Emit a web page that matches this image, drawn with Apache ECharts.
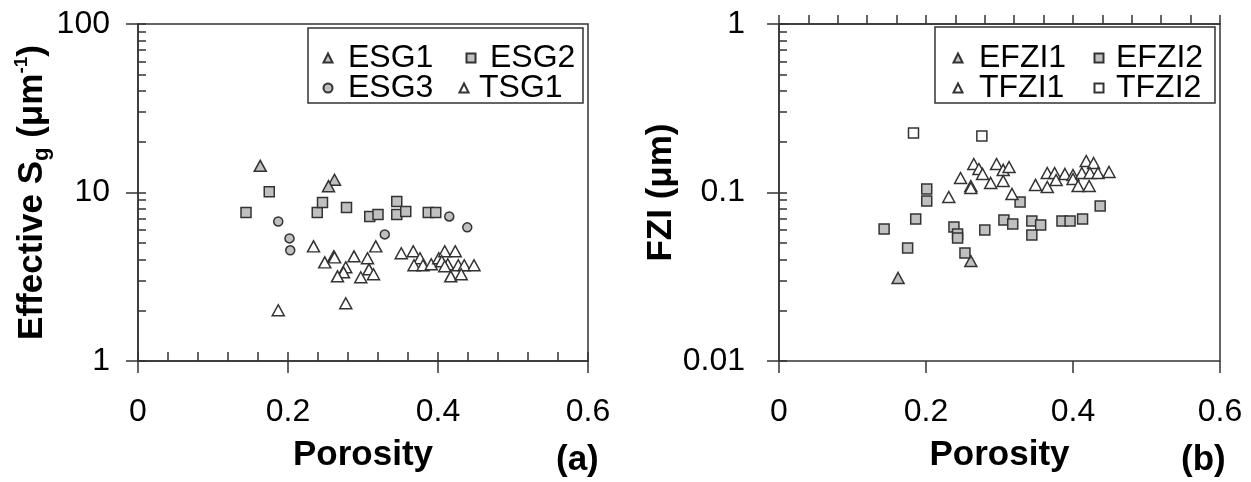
<!DOCTYPE html>
<html>
<head>
<meta charset="utf-8">
<script src="https://cdn.jsdelivr.net/npm/echarts@6/dist/echarts.min.js"></script>
<style>
  html, body { margin: 0; padding: 0; background: #fff; }
  #chart { width: 1251px; height: 482px; }
</style>
</head>
<body>
<div id="chart"></div>
<script>
// ---- (a) effective specific surface vs porosity: [porosity, Sg (1/um)] ----
const esg1 = [[0.163, 14.4], [0.262, 11.9], [0.254, 10.9]];
const esg2 = [[0.144, 7.62], [0.175, 10.1], [0.239, 7.62], [0.246, 8.73], [0.278, 8.15],
              [0.309, 7.21], [0.320, 7.41], [0.345, 8.85], [0.345, 7.41], [0.357, 7.72],
              [0.387, 7.62], [0.397, 7.62]];
const esg3 = [[0.187, 6.73], [0.202, 5.34], [0.203, 4.54], [0.329, 5.64], [0.415, 7.21], [0.439, 6.21]];
const tsg1 = [[0.234, 4.79], [0.187, 2.00], [0.249, 3.85], [0.261, 4.18], [0.262, 4.12],
              [0.288, 4.18], [0.306, 4.07], [0.317, 4.79], [0.277, 3.60], [0.274, 3.36],
              [0.266, 3.18], [0.308, 3.50], [0.297, 3.14], [0.314, 3.27], [0.277, 2.20],
              [0.351, 4.36], [0.367, 4.48], [0.376, 4.07], [0.368, 3.70], [0.380, 3.70],
              [0.391, 3.75], [0.401, 4.07], [0.409, 4.48], [0.423, 4.48], [0.413, 3.75],
              [0.427, 3.70], [0.435, 3.70], [0.448, 3.70], [0.417, 3.18], [0.431, 3.27],
              [0.405, 3.91], [0.409, 3.65]];

// ---- (b) flow zone indicator vs porosity: [porosity, FZI (um)] ----
const efzi1 = [[0.162, 0.0311], [0.261, 0.0392]];
const efzi2 = [[0.143, 0.0607], [0.175, 0.0469], [0.186, 0.0696], [0.201, 0.1049], [0.201, 0.0891],
               [0.238, 0.0624], [0.243, 0.0567], [0.243, 0.0537], [0.253, 0.0438], [0.280, 0.0599],
               [0.306, 0.0687], [0.318, 0.0650], [0.328, 0.0878], [0.344, 0.0677], [0.356, 0.0641],
               [0.344, 0.0560], [0.385, 0.0677], [0.396, 0.0677], [0.413, 0.0696], [0.437, 0.0832]];
const tfzi1 = [[0.231, 0.0940], [0.247, 0.1219], [0.261, 0.1093], [0.261, 0.1063], [0.265, 0.1476],
               [0.272, 0.1378], [0.277, 0.1288], [0.288, 0.1139], [0.296, 0.1476], [0.305, 0.1361],
               [0.313, 0.1417], [0.305, 0.1170], [0.317, 0.0980], [0.349, 0.1109], [0.365, 0.1078],
               [0.365, 0.1305], [0.375, 0.1305], [0.377, 0.1186], [0.389, 0.1288], [0.400, 0.1270],
               [0.400, 0.1202], [0.412, 0.1305], [0.418, 0.1538], [0.428, 0.1496], [0.423, 0.1305],
               [0.434, 0.1305], [0.449, 0.1324], [0.407, 0.1093], [0.422, 0.1093]];
const tfzi2 = [[0.183, 0.2256], [0.276, 0.2165]];

// axis ranges
const xRange = [0, 0.6];
const sgRange = [1, 100];
const fziRange = [0.01, 1];

const FONT = 'Liberation Sans, Arial, sans-serif';
const INK = '#333';
const GRAY = '#c0c0c0';

// log-spaced tick positions (1..9 per decade) expressed as exponents
function logTickExponents(lo, hi) {
  const out = [];
  for (let e = lo; e < hi; e++) {
    for (let m = 1; m < 10; m++) out.push(e + Math.log10(m));
  }
  out.push(hi);
  return out;
}

const lineStyle = { color: INK, width: 1.5 };

function mainX(grid, name) {
  return {
    gridIndex: grid, type: 'value', min: xRange[0], max: xRange[1], interval: 0.2, position: 'bottom',
    axisLine: { show: true, lineStyle },
    axisTick: { show: true, inside: true, length: 9, lineStyle },
    minorTick: { show: true, splitNumber: 5, length: 9, lineStyle },
    axisLabel: { fontSize: 32, fontFamily: FONT, color: '#000', margin: 35 },
    splitLine: { show: false },
    name: name, nameLocation: 'middle', nameGap: 77,
    nameTextStyle: { fontSize: 35, fontWeight: 'bold', fontFamily: FONT, color: '#000' }
  };
}
function outerX(grid) {
  return {
    gridIndex: grid, type: 'value', min: xRange[0], max: xRange[1], interval: 0.2, position: 'bottom',
    axisLine: { show: false },
    axisTick: { show: true, inside: false, length: 12, lineStyle },
    axisLabel: { show: false }, splitLine: { show: false }
  };
}
function mainY(grid, range, name, rich, gap, margin) {
  return {
    gridIndex: grid, type: 'log', logBase: 10, min: range[0], max: range[1], position: 'left',
    axisLine: { show: true, lineStyle },
    axisTick: { show: true, inside: false, length: 12, lineStyle },
    axisLabel: { fontSize: 32, fontFamily: FONT, color: '#000', margin: margin },
    splitLine: { show: false }, minorTick: { show: false },
    name: name, nameLocation: 'middle', nameGap: gap,
    nameTextStyle: { fontSize: 35, fontWeight: 'bold', fontFamily: FONT, color: '#000', rich: rich }
  };
}
function innerY(grid, range) {
  const lo = Math.round(Math.log10(range[0])), hi = Math.round(Math.log10(range[1]));
  return {
    gridIndex: grid, type: 'value', min: lo, max: hi, position: 'left',
    axisLine: { show: false },
    axisTick: { show: true, inside: true, length: 8, lineStyle, customValues: logTickExponents(lo, hi) },
    axisLabel: { show: false }, splitLine: { show: false }
  };
}

function scatter(name, data, symbol, size, fill, xi, yi) {
  return {
    type: 'scatter', name, data, symbol, symbolSize: size,
    xAxisIndex: xi, yAxisIndex: yi,
    itemStyle: { color: fill, borderColor: INK, borderWidth: 1.5, opacity: 1 },
    emphasis: { disabled: true }
  };
}

function legendItem(name, left, top, pad) {
  return {
    data: [name], left, top, orient: 'horizontal', selectedMode: false,
    itemWidth: 9, itemHeight: 9, itemGap: 0, padding: 0,
    textStyle: { fontSize: 32, fontFamily: FONT, color: '#000', lineHeight: 32, padding: [0, 0, 0, pad] }
  };
}

const TRI = [12, 11], SQ = 10, CIR = 9;

const richSg = {
  s: { fontSize: 22, fontWeight: 'bold', verticalAlign: 'bottom', lineHeight: 40 },
  p: { fontSize: 19, fontWeight: 'bold', verticalAlign: 'top', lineHeight: 40 }
};

const option = {
  backgroundColor: '#fff',
  animation: false,
  grid: [
    { left: 138, top: 24, width: 450, height: 337, show: true, borderColor: INK, borderWidth: 1.5, backgroundColor: 'transparent' },
    { left: 779, top: 24, width: 441, height: 337, show: true, borderColor: INK, borderWidth: 1.5, backgroundColor: 'transparent' }
  ],
  xAxis: [mainX(0, 'Porosity'), outerX(0), mainX(1, 'Porosity'), outerX(1)],
  yAxis: [
    mainY(0, sgRange, 'Effective S{s|g} (μm{p|-1})', richSg, 84, 28),
    innerY(0, sgRange),
    mainY(1, fziRange, 'FZI (μm)', {}, 100, 34),
    innerY(1, fziRange)
  ],
  legend: [
    legendItem('ESG1', 322.5, 42, 10.5),
    legendItem('ESG2', 465.5, 42, 9.5),
    legendItem('ESG3', 322.5, 72, 10.5),
    legendItem('TSG1', 458.5, 72, 5.5),
    legendItem('EFZI1', 952.5, 42, 11.5),
    legendItem('EFZI2', 1093.5, 42, 7.5),
    legendItem('TFZI1', 952.5, 72, 11.5),
    legendItem('TFZI2', 1093.5, 72, 7.5)
  ],
  series: [
    scatter('ESG1', esg1, 'triangle', TRI, GRAY, 0, 0),
    scatter('ESG2', esg2, 'rect', SQ, GRAY, 0, 0),
    scatter('ESG3', esg3, 'circle', CIR, GRAY, 0, 0),
    scatter('TSG1', tsg1, 'triangle', TRI, '#fff', 0, 0),
    scatter('EFZI1', efzi1, 'triangle', TRI, GRAY, 2, 2),
    scatter('EFZI2', efzi2, 'rect', SQ, GRAY, 2, 2),
    scatter('TFZI1', tfzi1, 'triangle', TRI, '#fff', 2, 2),
    scatter('TFZI2', tfzi2, 'rect', SQ, '#fff', 2, 2)
  ],
  graphic: [
    { type: 'rect', shape: { x: 308, y: 28, width: 275, height: 75 }, style: { fill: 'none', stroke: INK, lineWidth: 1.5 } },
    { type: 'rect', shape: { x: 935, y: 27, width: 280, height: 76 }, style: { fill: 'none', stroke: INK, lineWidth: 1.5 } },
    { type: 'text', left: 556, top: 443, style: { text: '(a)', fontSize: 35, fontWeight: 'bold', fontFamily: FONT, fill: '#000' } },
    { type: 'text', left: 1181, top: 443, style: { text: '(b)', fontSize: 35, fontWeight: 'bold', fontFamily: FONT, fill: '#000' } }
  ]
};

const chart = echarts.init(document.getElementById('chart'), null, { renderer: 'canvas' });
chart.setOption(option);
</script>
</body>
</html>
